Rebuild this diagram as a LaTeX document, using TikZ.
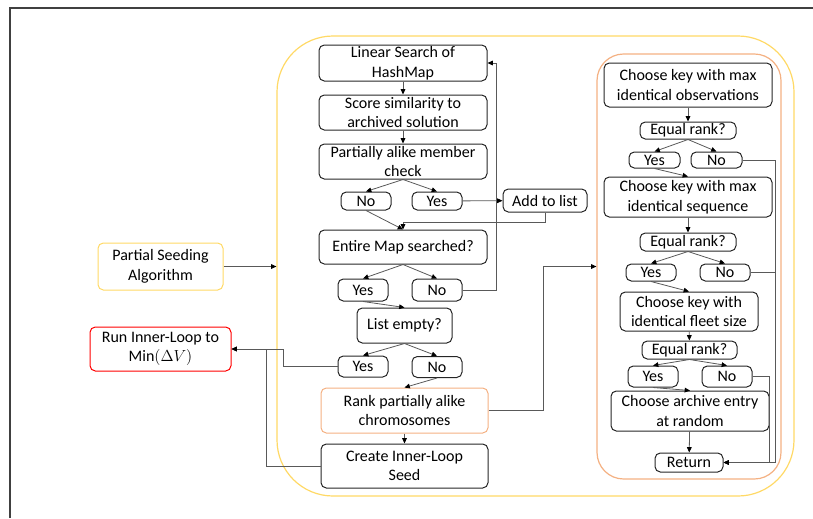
\documentclass[tikz,border=0pt]{standalone}
\usepackage{amsmath}
\usepackage{fontspec}
\setmainfont{Carlito}
\usetikzlibrary{arrows.meta}

\definecolor{lineGray}{HTML}{595959}
\definecolor{boxYellow}{HTML}{FFD966}
\definecolor{boxOrange}{HTML}{F4B183}
\definecolor{boxRed}{HTML}{FF0000}

\tikzset{
	sz/.style 2 args={minimum width=#1*0.75pt, minimum height=#2*0.75pt},
	flow/.style={draw=black!85, line width=0.75pt, rounded corners=4pt, align=center, inner sep=1pt},
	outer/.style={draw=#1, line width=0.9pt, inner sep=0pt},
	arr/.style={draw=lineGray, line width=0.6pt, -{Triangle[length=4pt,width=3.5pt,color=black]}},
	link/.style={draw=lineGray, line width=0.6pt},
}

\begin{document}
\begin{tikzpicture}[x=0.75pt, y=-0.75pt, font=\fontsize{12}{14.6}\selectfont]
		\useasboundingbox (0,0) rectangle (813,518);
		% page frame
		\draw[black!75, line width=0.9pt] (10,518) -- (10,8) -- (813,8);
		% containers
		\node[outer=boxYellow, sz={517}{460}, rounded corners=42pt] (outer) at (535.5,266) {};
		\node[outer=boxOrange, sz={184}{425}, rounded corners=20pt] (sort) at (689,266.5) {};
		% left side
		\node[flow, draw=boxYellow, sz={125}{47}] (seed) at (160.5,266.5) {Partial Seeding\\Algorithm};
		\node[flow, draw=boxRed, sz={141}{44}] (inner) at (160.5,349) {Run Inner-Loop to\\$\mathrm{Min}(\Delta V)$};
		% search loop
		\node[flow, sz={168}{36}] (lin) at (403,63) {Linear Search of\\HashMap};
		\node[flow, sz={168}{35}] (score) at (403,112.5) {Score similarity to\\archived solution};
		\node[flow, sz={168}{35}] (part) at (403,161.5) {Partially alike member\\check};
		\node[flow, sz={50}{18}] (no1) at (366,201) {No};
		\node[flow, sz={50}{18}] (yes1) at (437,201) {Yes};
		\node[flow, sz={84}{23}] (add) at (545,200.5) {Add to list};
		\node[flow, sz={168}{34}] (entire) at (403,247) {Entire Map searched?};
		\node[flow, sz={50}{22}] (yes2) at (363,290) {Yes};
		\node[flow, sz={50}{22}] (no2) at (437,290) {No};
		\node[flow, sz={95}{35}] (empty) at (404.5,325.5) {List empty?};
		\node[flow, sz={50}{21}] (yes3) at (363,366.5) {Yes};
		\node[flow, sz={50}{21}] (no3) at (437,367) {No};
		\node[flow, draw=boxOrange, sz={167}{45}] (rank) at (404.5,410.5) {Rank partially alike\\chromosomes};
		\node[flow, sz={167}{44}] (create) at (404.5,466) {Create Inner-Loop\\Seed};
		% ranking
		\node[flow, sz={168}{44}] (obs) at (688,85) {Choose key with max\\identical observations};
		\node[flow, sz={96}{17}] (eq1) at (688,130.5) {Equal rank?};
		\node[flow, sz={51}{16}] (yes4) at (654.5,160) {Yes};
		\node[flow, sz={51}{16}] (no4) at (716.5,160) {No};
		\node[flow, sz={168}{40}] (seq) at (688,197) {Choose key with max\\identical sequence};
		\node[flow, sz={96}{18}] (eq2) at (688,242) {Equal rank?};
		\node[flow, sz={50}{17}] (yes5) at (651,272.5) {Yes};
		\node[flow, sz={50}{17}] (no5) at (725,272.5) {No};
		\node[flow, sz={138}{39}] (fleet) at (689,311.5) {Choose key with\\identical fleet size};
		\node[flow, sz={95}{18}] (eq3) at (689.5,350) {Equal rank?};
		\node[flow, sz={50}{21}] (yes6) at (653,376.5) {Yes};
		\node[flow, sz={50}{21}] (no6) at (727,376.5) {No};
		\node[flow, sz={158}{40}] (rnd) at (690,411) {Choose archive entry\\at random};
		\node[flow, sz={68}{19}] (ret) at (689,462.5) {Return};
		% connectors, search loop
		\draw[arr] (seed) -- (outer.west |- seed);
		\draw[arr] (lin) -- (score);
		\draw[arr] (score) -- (part);
		\foreach \a in {no1,yes1} \draw[arr] (part.south) -- (\a.north);
		\draw[arr] (yes1) -- (add);
		\draw[arr] (no1.south) -- (entire.north);
		\draw[arr] (add.south) -- ++(0,10) -| (entire.north);
		\foreach \a in {yes2,no2} \draw[arr] (entire.south) -- (\a.north);
		\draw[arr] (no2.east) -- ++(34,0) |- (lin.east);
		\draw[arr] (yes2.south) -- (empty.north);
		\foreach \a in {yes3,no3} \draw[arr] (empty.south) -- (\a.north);
		\draw[arr] (no3.south) -- (rank.north);
		\draw[arr] (rank) -- (create);
		\draw[arr] (yes3.west) -- ++(-54,0) |- (inner.east);
		\draw[arr] (create.west) -- ++(-54,0) |- (inner.east);
		\draw[arr] (rank.east) -- ++(55,0) |- (sort.west);
		% connectors, ranking
		\draw[arr] (obs) -- (eq1);
		\foreach \a in {yes4,no4} \draw[arr] (eq1.south) -- (\a.north);
		\draw[arr] (yes4.south) -- (seq.north);
		\draw[arr] (seq) -- (eq2);
		\foreach \a in {yes5,no5} \draw[arr] (eq2.south) -- (\a.north);
		\draw[arr] (yes5.south) -- (fleet.north);
		\draw[arr] (fleet) -- (eq3);
		\foreach \a in {yes6,no6} \draw[arr] (eq3.south) -- (\a.north);
		\draw[arr] (yes6.south) -- (rnd.north);
		\draw[arr] (rnd) -- (ret);
		\draw[arr] (no4.east) -- ++(33,0) |- (ret.east);
		\draw[link] (no5.east) -- ++(25,0);
		\draw[arr] (no6.east) -- ++(17,0) |- (ret.east);
	\end{tikzpicture}
\end{document}
